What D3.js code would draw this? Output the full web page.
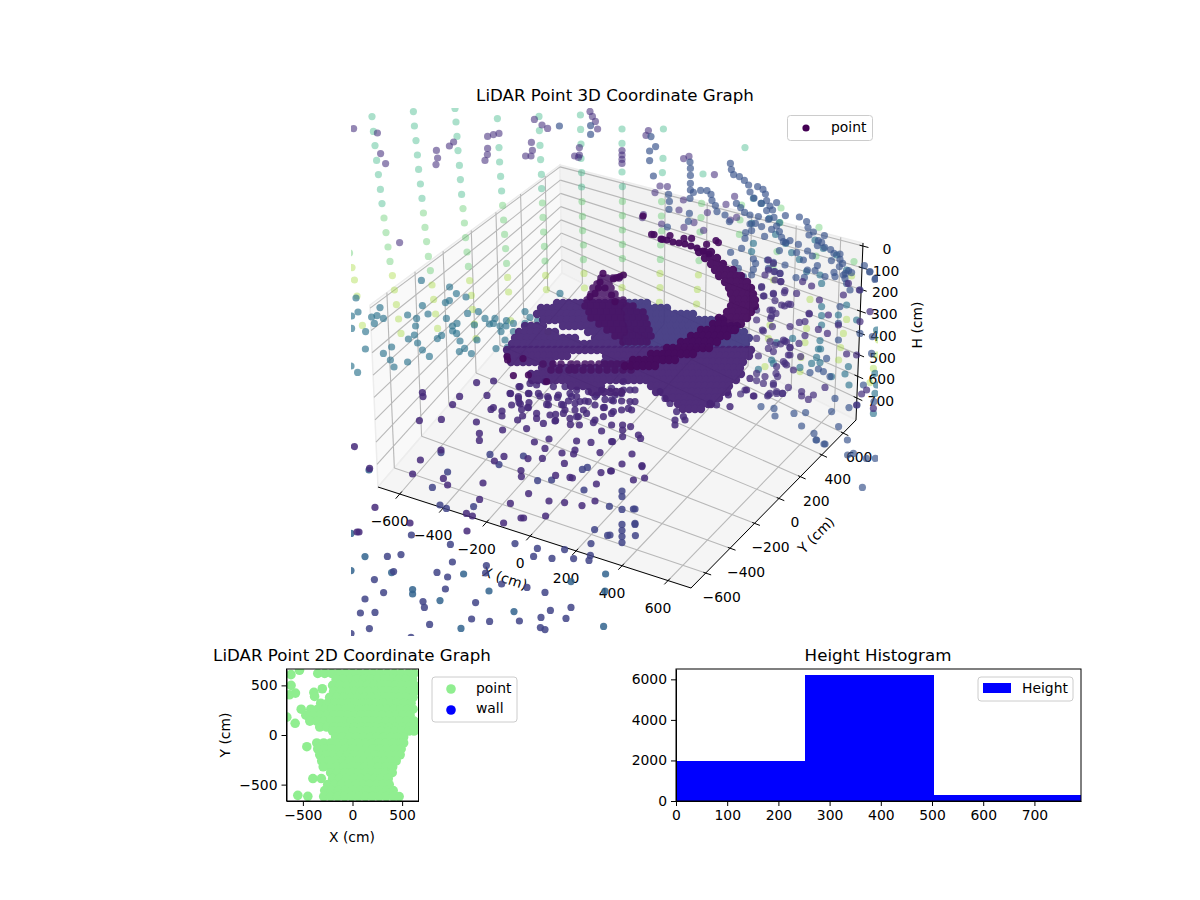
<!DOCTYPE html>
<html>
<head>
<meta charset="utf-8">
<script src="https://cdn.jsdelivr.net/npm/d3@7"></script>
<style>
    html, body { margin: 0; background: #fff; }
    text { font-family: "DejaVu Sans", sans-serif; fill: #000; }
</style>
</head>
<body>
<svg id="chart" width="1200" height="900"></svg>
<script>
// tick labels
const xTicks3d = [-600, -400, -200, 0, 200, 400, 600]
const yTicks3d = [-600, -400, -200, 0, 200, 400, 600]
const hTicks3d = [0, 100, 200, 300, 400, 500, 600, 700]
const xTicks2d = [-500, 0, 500]
const yTicks2d = [-500, 0, 500]
const histXTicks = [0, 100, 200, 300, 400, 500, 600, 700]
const histYTicks = [0, 2000, 4000, 6000]

// histogram bins, [from, to, count]
const heightBins = [[0, 252, 1985], [252, 504, 6200], [504, 791, 310]]

// 3D cloud, in view plane units [u, v]: depth can't be read back
const columnTeal = [[10.5,4.3],[11.2,11.7],[12,18.8],[12.8,26.2],[13.7,33.3],[14.7,40.7],[15.5,47.8],[31.2,1.8],[31.7,9],[32.5,16.3],[33.2,23.5],[33.8,30.7],[34.7,38],[35.5,45.2],[52,0.2],[52.5,7],[53,14.2],[53.5,21.3],[54.2,28.7],[54.7,35.8],[55.3,43.2],[73.2,5.3],[74,19.8],[74.3,27],[74.8,34.2],[75.3,41.5],[94,4.2],[94.2,11.3],[94.5,18.7],[94.8,25.8],[95.2,33.2],[95.3,40.3],[114.7,3.5],[114.8,10.7],[115,18],[115,25.2],[115.3,32.3],[115.3,39.5],[135.5,10.5],[135.5,17.7],[135.5,32],[135.7,39.3],[156.2,10.5],[156,25.2],[155.7,32.3],[176,33],[197,19.8]]
const columnGreen = [[16.5,55],[17.5,62.3],[18.5,69.5],[19.5,76.7],[36.2,52.5],[37,59.7],[37.8,66.8],[38.7,74.2],[39.7,81.3],[56,50.3],[56.7,57.5],[57.3,64.8],[58,72],[58.7,79.2],[75.8,48.7],[76.3,56],[76.8,63.2],[77.3,70.3],[77.8,77.7],[95.7,47.5],[96,54.7],[96.3,62],[96.7,69.2],[97,76.5],[115.5,46.8],[115.7,54.2],[115.8,61.3],[116.2,68.5],[116.2,75.8],[135.7,46.7],[135.7,53.8],[135.7,61],[135.7,68.2],[135.7,75.3],[155.3,46.8],[155.2,54],[155.3,61.5],[154.8,68.5],[154.7,75.7],[175.3,47.7],[175,54.8],[174.5,62],[174,76.3],[195.3,48.5],[194.5,56],[194.2,63.2],[215,50],[214.5,57.3],[213,71.8],[211,79],[234,59.7],[232.5,74],[251.5,76.8],[-0.7,72.5]]
const columnLime = [[0.5,79.8],[1.7,86],[3,94],[5.7,108.7],[20.7,83.8],[21.7,91],[22.7,98.3],[23.8,105.5],[25,112.7],[40.5,88.5],[41.3,95.7],[42.3,103],[43.3,110.2],[59.3,86.3],[60.2,93.7],[60.8,100.7],[61.7,108],[62.5,115.3],[78.3,84.7],[78.8,92],[79.8,106.3],[97.3,83.7],[97.7,90.8],[98.5,112],[116.5,82.7],[116.7,90],[135.8,83.5],[135.5,89.8],[154.5,82.7],[154.5,89.8],[154.2,97.2],[173.7,83.5],[173.2,90.7],[172.8,98],[211.2,86],[229.5,95.7],[227.8,110.2],[208.7,115.2],[227,117.3],[246.2,112.7],[244.8,119.8],[225,124.7],[207,129.3],[224.5,131.8],[243.8,126],[262.8,123.5],[261.2,130.2],[259.5,137.3],[209.5,108.5],[247.8,105.7],[263.7,116],[250.3,84]]
const topPurple = [[1.3,10.3],[13.2,12.5],[14.8,22.8],[17.3,27.8],[24.3,67.3],[42.7,21.2],[43.3,25],[42.5,28.3],[49.2,19],[51.3,17],[68.3,14.2],[71.2,13.3],[74,12.7],[68.3,20.2],[68.2,23.3],[67,26.2],[91.7,5.7],[95.5,8.5],[98.3,10.2],[90.2,17.2],[90.7,21.2],[90,24],[87.3,24],[114.2,19.8],[114.2,23.5],[111.8,24],[113.7,24.7],[119.5,1.7],[120.7,4.2],[122.2,6.7],[123.3,10.5],[135.5,21.3],[135.5,23.5],[135.5,25.7],[135.5,27.7],[148.7,11.3],[147.5,13.7],[154.5,39],[158.2,39.3],[152,42.3],[164,51],[155.3,58],[146.2,53.3],[145.7,54.8],[166.3,25.3],[169,24.2],[181.7,33.3],[166.2,46],[178.2,52.3],[171.5,57.3],[166.5,59.7],[176.3,61.2],[191.8,44.2],[187.5,48.2],[192.8,54.7],[189.7,56]]
const rightBlue = [[104.2,9],[119.8,8.8],[119.8,13.2],[150,14.3],[152.3,19.3],[149.3,21.5],[149.3,26.3],[151.2,34],[158.8,43.2],[159.2,46.7],[159,50.7],[158.2,59.5],[169.5,27],[169.7,30.2],[169.7,33.7],[169.7,37.7],[169.7,41],[171.2,42.2],[169.5,45.2],[174.8,41.2],[178,41.3],[180,43.2],[180.5,46.2],[182.2,48.8],[183,51.8],[169.2,52.7],[168.7,56.7],[189.7,27.7],[190.2,30.8],[191.3,33.3],[194.2,34.3],[196.7,36.2],[198.8,38.5],[199.5,42],[201.5,45],[203.3,39.3],[206,40.7],[207.2,43],[207.8,46.3],[205,47.7],[209.5,49],[212.8,47.3],[210.8,51],[192.7,47.7],[194.8,49.8],[196.8,52.2],[199.5,53.5],[203.7,54.3],[187,53.5],[189.2,56.8],[207.8,51.3],[208.7,55.7],[211.5,54.7],[217.2,53.8],[199.5,58],[202.2,57.7],[205.3,59.3],[200.3,61.3],[197.3,62.3],[197,65.2],[210.3,60.7],[212.8,59],[206.8,64.2],[214.2,61.8],[215.3,64.7],[224.2,54.5],[227.8,56.8],[228.5,59.8],[231.2,62],[229,63.5],[236.7,63.8],[233.7,66.3],[235.3,67.2],[233.2,68.8],[236.8,69.7],[239.8,70.8],[241.5,72.7],[244.5,73],[240.2,76.3],[244.5,75.7],[245.8,77.7],[244.2,79.3],[248.8,81.3],[247.2,82.7],[250.3,82.3],[256.7,78.8],[259.3,82],[262.3,85.2],[217.5,67.3],[216.2,66.8],[219.5,66.3],[223.7,68.2],[222.8,72.3],[228.3,71.5],[230.7,74],[226.2,76],[233.2,78.8],[228.2,81],[232,81.3],[222.5,84.8],[226.7,84.7],[237,84.3],[241.5,82.2],[247,85.2],[214.2,71.3],[208.2,76],[211.2,77.2],[208.7,80.2],[212,81.8],[214.5,82.7],[217,78.5],[201.2,75.5],[202.3,77.7],[201.2,80.7],[200.3,83.5],[195.3,70.2],[189.8,72.2],[192,77.3],[193.7,80.2],[196.2,84.3],[243.7,116],[254.5,112.7],[260.7,114.3],[237.8,125.2],[242,145.2],[249,149.8],[253,148.5],[225.3,159],[243.8,159.3],[231.5,162.7],[248.2,166],[232.8,166],[237,168],[229.5,132.3],[233.7,130.5],[236.2,131.8],[239.5,134.3],[261.5,146.8],[260.3,122.7],[256.2,138.5],[242,84.3],[247.8,87.7],[249.5,91],[244.5,99.3],[243.7,107.7],[246.2,83.5],[259.5,81.8],[262,85.7],[254.5,91],[248.3,173.5],[251.2,172.7],[257.7,175.2],[262.2,175.2],[255.7,189.7],[232.5,166],[236.5,168],[205,149.3],[211.5,150.2],[212,154],[221.5,152.7],[227.3,152.3],[240.3,151.8]]
const rightPurple = [[205.3,89.3],[206.2,94],[211.2,93],[216.7,92.3],[215,86.8],[222.8,92.7],[225.8,86.8],[230.3,89],[234.2,96],[210.7,101],[216.8,99],[219.8,98.2],[212.5,102.7],[209.8,105.2],[229.2,103],[224.2,107.2],[227,106.8],[219.5,109.3],[210.7,109.3],[202.8,101],[202.8,106],[205.7,111],[202.8,115.2],[227,113.8],[233.7,110.7],[238.2,112.7],[216.2,116],[214.8,118],[217.8,117],[224,117.7],[208.7,120.2],[211.2,121.8],[219.5,119.7],[224.8,124.3],[219.5,123.5],[217,127.7],[212.8,129.3],[203.7,124],[202.8,132.7],[207,134.3],[213.3,134.3],[202.8,136.3],[206.2,137.7],[211.2,138.5],[218.7,139.7],[212.8,141.8],[209.5,142.7],[215.8,142.7],[208.3,144],[201.5,144],[197,141],[194.8,143],[225.3,141.8],[225.3,144],[228.7,145.7],[231.2,143.5],[237,139.7],[221.2,131],[208.7,76],[211.2,77.7],[208.7,81],[211.5,81.8],[207,83.5],[214.5,82.7],[212,86],[214.8,86.8],[205.3,89.7],[206.5,94],[211.2,92.7],[212,96.3],[217,91.3],[218.7,98],[215.3,98.5],[209.5,101],[210.3,104],[206.2,111.5],[209.5,116.8],[212,118.5],[217,116.5],[219.5,119.8],[218.7,123.5],[216.2,126.8],[217.8,128.5],[212.5,132.7],[211.2,137.7],[208.7,143.5],[212.8,142.7],[215.7,142.7],[238.7,103.5],[243.7,108.5],[229,102.7],[247.8,123],[252.8,123.5],[254.5,106.8],[259.5,101.8],[248.7,87.7],[246.2,93.5],[254.2,91],[257.8,141],[255.3,143],[252.8,148.5],[261.2,150.2]]
const sideTeal = [[2.5,95],[35.2,86.2],[49.3,89.5],[52.7,92.8],[57.5,94.5],[49.2,96.3],[47.2,97.3],[35.7,98.8],[14.5,99.8],[3.5,102],[0.3,104],[10.3,104.5],[13,103.8],[16.2,105.2],[11.7,107.7],[28.3,103.5],[32.8,105.2],[32.3,109],[38.5,103],[47.7,105.2],[58.3,102.7],[63.7,101.8],[67,105.2],[53,107.7],[50.7,109],[50.8,111.5],[52.8,112.7],[61.7,108.5],[45.3,113.7],[43.2,115.3],[31.7,113.5],[28.7,115.5],[33.3,117.5],[54.5,116.5],[63,116],[35.7,121],[56.8,120.2],[54.2,121.8],[60.2,122.8],[39.2,124.2],[20.3,119.5],[16.2,122.7],[19.7,126],[28.3,127],[21.5,129.5],[7.2,120.5],[7.3,111.8],[0.3,110.2],[0,129],[3.3,132.2],[72.5,120.3],[78.2,119.7],[77,116],[75,111.8],[72,105.2],[71.2,107.7],[69.2,108],[74.5,109],[77.5,109],[81.2,111.8],[81.2,107.7],[77.7,106.3],[87,101.8],[89.5,104.7],[93.3,106.3],[87,107.7],[104.5,92.7],[235.3,99.3],[235.3,103.8],[235.3,108.5],[234.5,116.3],[233.7,120.5],[234.8,120.5],[232.8,124.7],[230.3,127.7],[224.5,129.7],[234.5,127.3],[212.8,117.3],[210.3,126],[211.2,127.7],[220.8,115.2],[203.7,130.7],[248.7,129.3],[247,133],[240.3,134.3],[249,138.5],[227.8,81.8],[234.5,83.5],[235.3,87.7],[247.8,98.5],[243.7,103.5],[252.8,106],[262.8,111],[262,132.7],[262.8,138.5],[262,142.7],[261.2,152.7],[200.3,57.7],[201.2,67.7],[200.3,71.8],[209.2,55.2],[214.2,57.3],[212.3,63.2],[217.3,67.7],[220.3,72.3],[224.2,75.7],[232,66],[236.2,70.2],[242.8,73.5],[247.8,81],[201.2,45.2],[205.3,47.7]]
const lowerPurple = [[62.8,137.3],[71.3,136.5],[35.7,142.3],[36,144.3],[54.3,144.2],[68,143.7],[50.8,148.3],[71.2,149.8],[70,150.7],[75.5,151.5],[75.5,154],[34.2,156.3],[45.2,155.7],[62.7,157],[75.8,161],[64.2,162.7],[64.2,166.2],[1.7,169.3],[84,139.3],[79.8,142.8],[89,142.8],[94.5,144],[98.3,144.3],[103.2,144.7],[83.7,145.2],[80.3,148.5],[84.7,148],[89,147.3],[98.7,148.5],[105.3,148.2],[108.7,146.5],[88.3,149.7],[85.3,150.7],[92.8,152.7],[92.8,155.2],[83.3,156],[85.8,154],[99.5,153.5],[102.3,153.2],[106.2,152.7],[112,151],[112.8,154.3],[117.8,152.7],[122,156],[126.2,154.3],[126.7,149.7],[122,148.5],[118.7,146.8],[122.8,143.5],[130.3,146],[130.3,152.7],[96.2,157.7],[102.3,156.3],[109.7,158.2],[114.2,158.5],[121.2,157.3],[87.8,160.3],[125.3,161.5],[99,165.5],[91.7,167],[112.8,166.5],[120,167.2],[130.3,166.8],[97,170.2],[112,171],[45,171],[107,151],[110.3,144.3],[114.5,146.8],[112,147.7],[9.3,180.2],[34.7,176],[30.8,183],[46.2,185.2],[48.3,188.5],[66,187.5],[71.7,176.5],[76.5,174.2],[88.5,175.3],[95.7,175.2],[105.5,172.5],[111.3,173],[106.7,177.7],[124.5,172.3],[85,181.3],[85.2,184.3],[102.3,183.7],[109.5,184.7],[110.7,185],[125,182.3],[129.8,181.5],[122.7,188],[88.8,192.8],[64.3,195.7],[79.7,197.7],[99,196.5],[106.8,197.3],[115.5,198.8],[122,196.5],[12,199.7],[57.7,202.7],[60.7,204],[97.3,204],[85,205],[86.3,205],[76.3,207.5],[29.5,207.5],[3,212],[4,212],[58,211.5],[140.5,173],[135.5,178],[145.5,179.3],[145.5,178.8],[130.2,181.5],[141.2,186],[146.8,185],[79.5,142.7],[84.5,139.3],[89.5,137.7],[92.8,138.5],[97,136.8],[101.2,139.3],[107,139.3],[109.5,142.7],[103.7,143.5],[98.7,145.2],[93.7,142.7],[88.7,142.7],[83.7,144.3],[84,147.2],[88.7,149.8],[97.8,148.2],[106.2,148.5],[112.8,144.3],[117,146.5],[122,144.3],[127,145.7],[131.2,146.5],[135.3,146.5],[116.2,151],[126.2,149.8],[131.2,151.8],[135.3,151],[138.7,150.2],[109.5,155.2],[113.7,154.3],[102,156.5],[112.8,141],[118.7,141.8],[125.3,141],[130.3,140.2],[136.2,141],[136.2,136.8],[139.5,146.8],[142,146.8],[140.3,151],[132,143.5],[135.3,142.7],[139.5,141],[142,141],[154.5,141.8],[157,145.2],[159.5,147.7],[162.8,151.8],[166.2,154.3],[162,156],[162,158.5],[167,156],[130.3,158.5],[135.8,158.5],[135.8,161],[139.8,159.3],[143.7,163.5],[144.8,165.2],[130.8,166.8],[135.8,164.3],[182.8,148.5],[179.5,147.7],[189.5,149.3],[188.7,143.5],[201.2,144],[197.8,141],[199.5,135.2]]
const bottomBlue = [[45,172.3],[48.3,182],[40.7,189.7],[69.5,173.2],[74,178.3],[86.2,174],[93.3,186.3],[100.3,186],[115.7,180.7],[118.2,179.7],[116.5,191],[129.2,199.2],[44.5,198.5],[47.7,200.2],[61.3,199.3],[30.2,213.5],[121.8,210.8],[128.3,213.7],[120,217.8],[82,217.8],[49.7,218.2],[93.2,220.2],[106.8,220.8],[18.2,224.2],[25,223.3],[91.3,224.2],[100.5,225.2],[111.3,225.3],[119.7,223.7],[119,226.2],[50.7,227],[67.7,228.8],[43,232.2],[21.3,231.8],[67.3,232.5],[48.3,234.5],[11.7,235.8],[75.3,238],[88,239.7],[47.2,240.5],[16.3,242.3],[97,242.2],[7,245.5],[36,246.8],[36.7,249.7],[62.3,247.3],[110,249.7],[4.7,252.5],[12,252.2],[99.7,251.2],[95,254.7],[60.3,255.5],[69.3,256.7],[84.2,256.5],[107.5,255.2],[39.3,258.2],[9.2,260.3],[94.7,259.8],[97,260.8],[0,262.8],[30,264.7],[135.5,191.5],[135.5,194.3],[135.5,200.7],[141.2,200.5],[142,200.5],[135.5,208.2],[142,208.2],[142,207.7],[135.5,211.3],[135.5,214.3],[142.2,213.8],[135.5,217.3],[129.5,213.5]]
const bottomSteel = [[7,224.3],[20.3,232.3],[56.3,233],[127.3,233],[110,236.8],[30.8,240.8],[30.8,243],[69,241.5],[127,241.5],[44.5,246.3],[81.5,251.8],[55,260.2],[126.3,259.2],[0,212.7],[0,231.3],[9,181]]

// dense body of the cloud, one list per screen row: [v, u, u, u, ...]
const bodyUpperRows = [
    [97.5,103,106,109,112,115,118,121,124,127,130,133,136,139,142,145,148],
    [100,95,98,101,104,107,110,113,116,119,122,125,128,131,134,137,140,143,146,149,152,155,158],
    [103,93,96,99,102,105,108,111,114,117,120,123,126,129,132,135,138,141,144,147,150,153,156,159,162,165,168,171],
    [106,96,99,102,105,108,111,114,117,120,123,126,129,132,135,138,141,144,147,150,153,156,159,162,165,168,171,174,177,180,183,186],
    [109,87,90,93,96,106,109,112,115,118,121,124,127,130,133,136,139,142,145,148,151,154,157,160,163,166,169,172,175,178,181,184,187,190,193],
    [112,84,87,90,93,96,99,102,118.5,121.5,124.5,127.5,130.5,133.5,136.5,139.5,142.5,145.5,148.5,151.5,154.5,157.5,160.5,163.5,166.5,169.5,172.5,175.5,178.5,181.5,184.5,187.5,190.5,193.5,196.5],
    [115,82,85,88,91,94,97,100,103,106,109,112,122,125,128,131,134,137,140,143,146,149,152,155,158,161,164,167,170,173,176,179,182,185,188,191,194,197,199],
    [118,80.5,83.5,86.5,89.5,92.5,95.5,98.5,101.5,104.5,107.5,110.5,113.5,116.5,119.5,122.5,125.5,128.5,131.5,134.5,137.5,140.5,143.5,146.5,149.5,152.5,155.5,158.5,161.5,164.5,167.5,170.5,173.5,176.5,179.5,182.5,185.5,188.5,191.5,194.5,197.5]
]
const bodyLowerRows = [
    [121,78,81,84,87,90,93,96,99,102,105,108,111,114,117,120,123,126,129,132,135,138,141,144,147,150,153,156,159,162,165,168,171,174,177,180,183,186,189,192,195,198,200],
    [124,78.5,81.5,84.5,87.5,90.5,93.5,96.5,99.5,102.5,105.5,108,127.5,130.5,133.5,136.5,139.5,142.5,145.5,148.5,151.5,154.5,157.5,160.5,163.5,166.5,169.5,172.5,175.5,178.5,181.5,184.5,187.5,190.5,193.5,196.5,199],
    [127,80,83,86,89,92,95,98,100,127,130,133,136,139,142,145,148,151,154,157,160,163,166,169,172,175,178,181,184,187,190,193,196],
    [130,95.5,98.5,101.5,104.5,107.5,110.5,113.5,116.5,119.5,122.5,125.5,128.5,131.5,134.5,137.5,140.5,143.5,146.5,149.5,152.5,155.5,158.5,161.5,164.5,167.5,170.5,173.5,176.5,179.5,182.5,185.5,188.5,191.5,194.5],
    [133,90,93,96,99,102,105,108,111,114,117,120,123,126,129,132,135,138,141,144,147,150,153,156,159,162,165,168,171,174,177,180,183,186,189,192,195],
    [136,90.5,93.5,96.5,99.5,102.5,105.5,108.5,111.5,114.5,117.5,120.5,123.5,126.5,129.5,132.5,135.5,138.5,141.5,144.5,147.5,150.5,153.5,156.5,159.5,162.5,165.5,168.5,171.5,174.5,177.5,180.5,183.5,186.5,189.5,192.5],
    [139,110,113,116,119,122,125,150,153,156,159,162,165,168,171,174,177,180,183,186,189],
    [142,120.5,123.5,126.5,129.5,132.5,135,152.5,155.5,158.5,161.5,164.5,167.5,170.5,173.5,176.5,179.5,182.5,185.5,188],
    [145,158,161,164,167,170,173,176,179,182,184],
    [148,163.5,166.5,169.5,172.5,175.5,178.5,180],
    [150.5,166,169,172,175]
]
const darkRows = [
    [85,125,128,131,134],
    [88,123,126,129],
    [90,121,124,127,130],
    [93,120,123,126,129,132],
    [96,118,121,124,127,130,133,136],
    [99,117,120,123,126,129,132,135,138,141],
    [102,119,122,125,128,131,134,137,140,143,146],
    [105,120,123,126,129,132,135,138,141,144,147],
    [108,124,127,130,133,136,139,142,145,148],
    [111,128,131,134,137,140,143,146,149],
    [114,132,135,138,141,144,147,150],
    [117,136,139,142,145,148],
    [128,96,101,105,110,113,117,120,124,127,130,133,136,139],
    [131,100,104,109,112,116,120,124,128,132,136,140]
]
const darkLoose = [[126,82.7],[124.5,87],[123.7,90],[122,92.7],[119.5,94.3],[127,90],[130.3,93.5],[132,96.8],[134.5,84.3],[132.8,84.8],[131.2,85.5],[136.2,83.5],[78,124.3],[78.3,126],[86,125.3],[88.7,133.5],[81.2,133.8],[97.8,136.8],[150.3,63.2],[151.5,63.3],[159.5,63.8],[155.7,65.7],[166.5,65.2],[170.3,65.2],[146,54],[177.8,68.2],[182.5,66.3],[183.7,67.3]]
const arcThin = [[155,65.5],[158,66],[161,67],[164,67.5],[167,68],[170,69],[173,70],[176,71.5],[179,73]]
const arcRows = [
    [72,174,177,180],
    [75,177,180,183],
    [78,180,183,186],
    [81,182,185,188,191],
    [84,184,187,190,193,195],
    [87,187,190,193,196,198],
    [90,189,192,195,198,200],
    [93,190,193,196,199,201],
    [96,191,194,197,200,202],
    [99,190,193,196,199,202],
    [102,188,191,194,197,200],
    [105,184,187,190,193,196,198],
    [108,181,184,187,190,193,195],
    [111,175,178,181,184,187,190,192],
    [114,170,173,176,179,182,185,188],
    [117,165,168,171,174,177,180,183],
    [120,158,161,164,167,170,173,176,179],
    [123,150,153,156,159,162,165,168,171],
    [126,141,144,147,150,153,156,159,162],
    [129,137,140,143,146,149,152]
]

// 2D view, one list per row in cm: [y, x, x, x, ...]
const flatRows = [
    [620,-350,-280,-210,-140,-70,0,70,140,210,280,350,420,490,560,620],
    [560,-165,-95,-25,45,115,185,255,325,395,465,535,605],
    [500,-200,-130,-60,10,80,150,220,290,360,430,500,570,625],
    [440,-190,-120,-50,20,90,160,230,300,370,440,510,580,625],
    [380,-230,-160,-90,-20,50,120,190,260,330,400,470,540,610],
    [320,-320,-250,-180,-110,-40,30,100,170,240,310,380,450,520,590],
    [260,-420,-350,-280,-210,-140,-70,0,70,140,210,280,350,420,490,560,610],
    [200,-470,-400,-330,-260,-190,-120,-50,20,90,160,230,300,370,440,510,580],
    [140,-430,-360,-290,-220,-150,-80,-10,60,130,200,270,340,410,480,550,620],
    [80,-330,-260,-190,-120,-50,20,90,160,230,300,370,440,510,580,625],
    [40,-200,-130,-60,10,80,150,220,290,360,430,500,570,620],
    [-20,-170,-100,-30,40,110,180,250,320,390,450,515],
    [-80,-360,-290,-220,-150,-80,-10,60,130,200,270,340,410,480,515],
    [-140,-350,-280,-210,-140,-70,0,70,140,210,280,350,420,490],
    [-200,-330,-260,-190,-120,-50,20,90,160,230,300,370,440,480],
    [-260,-310,-240,-170,-100,-30,40,110,180,250,320,390,440],
    [-320,-295,-225,-155,-85,-15,55,125,195,265,335,405],
    [-380,-220,-150,-80,-10,60,130,200,270,340,400],
    [-440,-200,-130,-60,10,80,150,220,290,360],
    [-500,-250,-180,-110,-40,30,100,170,240,310,370],
    [-560,-280,-210,-140,-70,0,70,140,210,280,350,410],
    [-620,-290,-220,-150,-80,-10,60,130,200,270,340,410,470]
]
const flatLoose = [[-620,608],[-534,652],[-619,500],[-635,405],[-575,422],[-517,260],[-662,180],[-578,118],[-389,429],[-304,466],[-382,389],[-460,-118],[-399,-439],[-314,-439],[-551,-608],[-450,-618]]

const svg = d3.select("#chart")
const fontSize = 13.9
const titleSize = 16.67

const addText = (parent, x, y, label, size = fontSize, anchor = "middle") => parent.append("text")
    .attr("x", x)
    .attr("y", y)
    .attr("text-anchor", anchor)
    .attr("dominant-baseline", "central")
    .style("font-size", size + "px")
    .text(label)

const minus = v => String(v).replace("-", "\u2212")
const rowsToPoints = rows => rows.flatMap(([v, ...us]) => us.map(u => [u, v]))

// ---- 3D axes ----
const xFrac = d3.scaleLinear().domain([-700, 0, 700]).range([0, 0.486, 1])
const yFrac = d3.scaleLinear().domain([-720, 0, 720]).range([0, 0.533, 1])
const hFrac = d3.scaleLinear().domain([-14, 801]).range([0, 1])

// box corners on screen, [x side][y side][h side]
const corners = [
    [[[370, 305], [378, 487]], [[560, 165], [562, 273]]],
    [[[698, 388], [691, 588]], [[863, 243], [856, 420]]]
]
const lerp = (a, b, t) => a + (b - a) * t
const project = (x, y, h) => {
    const tx = xFrac(x), ty = yFrac(y), th = hFrac(h)
    return [0, 1].map(i => lerp(
        lerp(lerp(corners[0][0][0][i], corners[0][0][1][i], th), lerp(corners[0][1][0][i], corners[0][1][1][i], th), ty),
        lerp(lerp(corners[1][0][0][i], corners[1][0][1][i], th), lerp(corners[1][1][0][i], corners[1][1][1][i], th), ty),
        tx))
}
const [xLo, xHi] = [-700, 700]
const [yLo, yHi] = [-720, 720]
const [hLo, hHi] = [-14, 801]

const panes = [
    {fill: "#f9f9f9", pts: [[xLo, yLo, hLo], [xLo, yHi, hLo], [xLo, yHi, hHi], [xLo, yLo, hHi]]},
    {fill: "#f2f2f2", pts: [[xLo, yHi, hLo], [xHi, yHi, hLo], [xHi, yHi, hHi], [xLo, yHi, hHi]]},
    {fill: "#f5f5f5", pts: [[xLo, yLo, hHi], [xHi, yLo, hHi], [xHi, yHi, hHi], [xLo, yHi, hHi]]}
]
const axes3d = svg.append("g")
axes3d.selectAll("polygon.pane")
    .data(panes)
    .join("polygon")
    .attr("class", "pane")
    .attr("points", d => d.pts.map(p => project(...p).join(",")).join(" "))
    .attr("fill", d => d.fill)
    .attr("stroke", "#ededed")
    .attr("stroke-width", 1.5)

const line3d = (a, b, color, width) => {
    const [p, q] = [project(...a), project(...b)]
    axes3d.append("line")
        .attr("x1", p[0]).attr("y1", p[1])
        .attr("x2", q[0]).attr("y2", q[1])
        .attr("stroke", color)
        .attr("stroke-width", width)
}
const gridColor = "#b8b8b8"
xTicks3d.forEach(x => {
    line3d([x, yLo, hHi], [x, yHi, hHi], gridColor, 1.1)
    line3d([x, yHi, hLo], [x, yHi, hHi], gridColor, 1.1)
})
yTicks3d.forEach(y => {
    line3d([xLo, y, hHi], [xHi, y, hHi], gridColor, 1.1)
    line3d([xLo, y, hLo], [xLo, y, hHi], gridColor, 1.1)
})
hTicks3d.forEach(h => {
    line3d([xLo, yLo, h], [xLo, yHi, h], gridColor, 1.1)
    line3d([xLo, yHi, h], [xHi, yHi, h], gridColor, 1.1)
})

// axis lines, ticks and labels
line3d([xLo, yLo, hHi], [xHi, yLo, hHi], "#000", 1)
line3d([xHi, yLo, hHi], [xHi, yHi, hHi], "#000", 1)
line3d([xHi, yHi, hHi], [xHi, yHi, hLo], "#000", 1)

xTicks3d.forEach(x => {
    line3d([x, yLo - 30, hHi], [x, yLo + 16, hHi], "#000", 1)
    const p = project(x, yLo, hHi)
    addText(axes3d, p[0] - 10, p[1] + 27, minus(x))
})
yTicks3d.forEach(y => {
    line3d([xHi - 10, y, hHi], [xHi + 24, y, hHi], "#000", 1)
    const p = project(xHi, y, hHi)
    addText(axes3d, p[0] + 16, p[1] + 24, minus(y))
})
hTicks3d.forEach(h => {
    line3d([xHi - 15, yHi, h], [xHi + 25, yHi, h], "#000", 1)
    const p = project(xHi, yHi, h)
    addText(axes3d, p[0] + 24, p[1] + 3, minus(h))
})
addText(axes3d, 0, 0, "X (cm)").attr("transform", "translate(505,578) rotate(18)")
addText(axes3d, 0, 0, "Y (cm)").attr("transform", "translate(816,535) rotate(-45)")
addText(axes3d, 0, 0, "H (cm)").attr("transform", "translate(917,325) rotate(-90)")
addText(svg, 615, 95, "LiDAR Point 3D Coordinate Graph", titleSize)

// ---- point cloud ----
svg.append("clipPath").attr("id", "cloud-clip")
    .append("rect").attr("x", 351).attr("y", 108).attr("width", 527).attr("height", 528)

const uScale = d3.scaleLinear().domain([0, 265]).range([351, 881])
const vScale = d3.scaleLinear().domain([0, 265]).range([108, 638])

const upperPoints = rowsToPoints(bodyUpperRows)

// loose layers fade point by point, the dense body fades as one layer
const cloudLayers = [
    {points: columnTeal, shade: 0.64, alpha: 0.4},
    {points: columnGreen, shade: 0.74, alpha: 0.4},
    {points: columnLime, shade: 0.86, alpha: 0.4},
    {points: sideTeal, shade: 0.38, alpha: 0.65},
    {points: topPurple, shade: 0.14, alpha: 0.58},
    {points: rightBlue, shade: 0.26, alpha: 0.68},
    {points: rightPurple, shade: 0.14, alpha: 0.72},
    {points: bottomSteel, shade: 0.32, alpha: 0.85},
    {points: bottomBlue, shade: 0.2, alpha: 0.85},
    {points: lowerPurple, shade: 0.12, alpha: 0.85},
    {points: upperPoints.filter(d => d[0] >= 137), shade: 0.17, layerAlpha: 0.95, r: 4.2},
    {points: upperPoints.filter(d => d[0] < 137), shade: 0.11, layerAlpha: 0.95, r: 4.2},
    {points: rowsToPoints(bodyLowerRows), shade: 0.1, layerAlpha: 0.95, r: 4.2},
    {points: rowsToPoints(darkRows), shade: 0.05, layerAlpha: 0.85, r: 3.8},
    {points: darkLoose, shade: 0.03, alpha: 0.9},
    {points: arcThin, shade: 0.03, alpha: 0.95},
    {points: rowsToPoints(arcRows), shade: 0.03, layerAlpha: 0.95, r: 4.2}
]
const cloud = svg.append("g").attr("clip-path", "url(#cloud-clip)")
cloudLayers.forEach(layer => {
    cloud.append("g")
        .attr("opacity", layer.layerAlpha || 1)
        .selectAll("circle")
        .data(layer.points)
        .join("circle")
        .attr("cx", d => uScale(d[0]))
        .attr("cy", d => vScale(d[1]))
        .attr("r", layer.r || 3.6)
        .attr("fill", d3.interpolateViridis(layer.shade))
        .attr("opacity", layer.alpha || 1)
})

const legendBox = (x, y, w, h) => svg.append("rect")
    .attr("x", x).attr("y", y).attr("width", w).attr("height", h)
    .attr("rx", 3)
    .attr("fill", "#fff").attr("fill-opacity", 0.8)
    .attr("stroke", "#ccc")

legendBox(787.5, 115.5, 85, 25)
svg.append("circle").attr("cx", 806).attr("cy", 128).attr("r", 3.6).attr("fill", "#440154")
addText(svg, 831, 127, "point", fontSize, "start")

// ---- 2D view ----
const flatX = d3.scaleLinear().domain([-665, 665]).range([286.5, 418.5])
const flatY = d3.scaleLinear().domain([-665, 665]).range([801, 669])

svg.append("clipPath").attr("id", "flat-clip")
    .append("rect").attr("x", 286.5).attr("y", 669).attr("width", 132).attr("height", 132)

const flatPoints = rowsToPoints(flatRows).concat(flatLoose)
svg.append("g")
    .attr("clip-path", "url(#flat-clip)")
    .selectAll("circle")
    .data(flatPoints)
    .join("circle")
    .attr("cx", d => flatX(d[0]))
    .attr("cy", d => flatY(d[1]))
    .attr("r", 4.8)
    .attr("fill", "lightgreen")

const styleAxis = g => {
    g.selectAll("text").style("font-size", fontSize + "px").style("font-family", '"DejaVu Sans", sans-serif')
    g.selectAll("line, path").attr("stroke", "#000").attr("stroke-width", 1)
}
svg.append("g")
    .attr("transform", "translate(0,801)")
    .call(d3.axisBottom(flatX).tickValues(xTicks2d).tickFormat(minus).tickSize(5).tickSizeOuter(0).tickPadding(4))
    .call(styleAxis)
svg.append("g")
    .attr("transform", "translate(286.5,0)")
    .call(d3.axisLeft(flatY).tickValues(yTicks2d).tickFormat(minus).tickSize(5).tickSizeOuter(0).tickPadding(4))
    .call(styleAxis)
svg.append("rect").attr("x", 286.5).attr("y", 669).attr("width", 132).attr("height", 132)
    .attr("fill", "none").attr("stroke", "#000")
addText(svg, 352, 655, "LiDAR Point 2D Coordinate Graph", titleSize)
addText(svg, 352, 837, "X (cm)")
addText(svg, 0, 0, "Y (cm)").attr("transform", "translate(225,735) rotate(-90)")

legendBox(432, 677, 85, 45)
svg.append("circle").attr("cx", 451).attr("cy", 689).attr("r", 4.8).attr("fill", "lightgreen")
svg.append("circle").attr("cx", 451).attr("cy", 710).attr("r", 4.8).attr("fill", "blue")
addText(svg, 476, 688, "point", fontSize, "start")
addText(svg, 476, 708, "wall", fontSize, "start")

// ---- histogram ----
const histX = d3.scaleLinear().domain([0, 791]).range([676, 1081])
const histY = d3.scaleLinear().domain([0, 6510]).range([801, 669])

svg.append("g")
    .selectAll("rect")
    .data(heightBins)
    .join("rect")
    .attr("x", d => histX(d[0]))
    .attr("y", d => histY(d[2]))
    .attr("width", d => histX(d[1]) - histX(d[0]))
    .attr("height", d => histY(0) - histY(d[2]))
    .attr("fill", "blue")
    .attr("shape-rendering", "crispEdges")
svg.append("g")
    .attr("transform", "translate(0,801)")
    .call(d3.axisBottom(histX).tickValues(histXTicks).tickFormat(d => d).tickSize(5).tickSizeOuter(0).tickPadding(4))
    .call(styleAxis)
svg.append("g")
    .attr("transform", "translate(676,0)")
    .call(d3.axisLeft(histY).tickValues(histYTicks).tickFormat(d => d).tickSize(5).tickSizeOuter(0).tickPadding(4))
    .call(styleAxis)
svg.append("rect").attr("x", 676).attr("y", 669).attr("width", 405).attr("height", 132)
    .attr("fill", "none").attr("stroke", "#000")
addText(svg, 878, 655, "Height Histogram", titleSize)

legendBox(978, 677, 95, 24)
svg.append("rect").attr("x", 983).attr("y", 683).attr("width", 28).attr("height", 10).attr("fill", "blue")
addText(svg, 1022, 688, "Height", fontSize, "start")
</script>
</body>
</html>
